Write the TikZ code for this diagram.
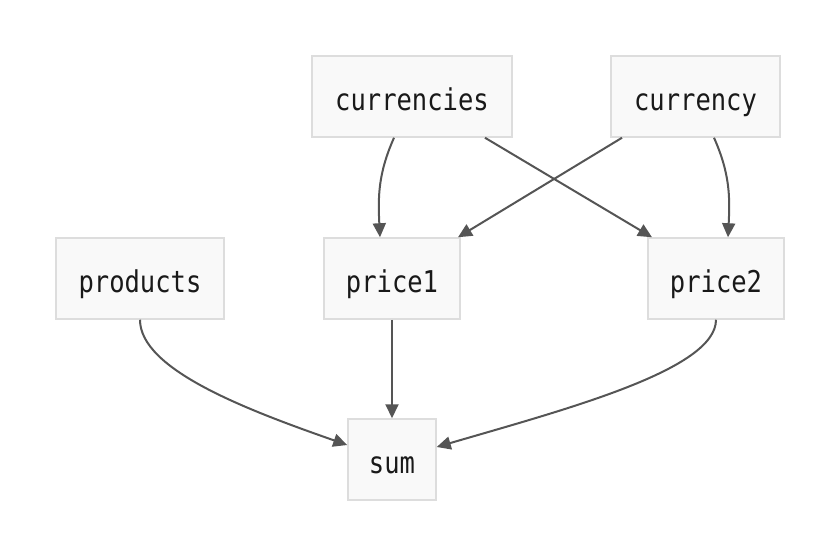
\documentclass[tikz,border=0pt]{standalone}
\usepackage{fontspec}
\setmonofont[FakeStretch=0.85]{DejaVu Sans Mono}
\usetikzlibrary{arrows.meta}
\definecolor{boxfill}{HTML}{F9F9F9}
\definecolor{boxline}{HTML}{DDDDDD}
\definecolor{edgecol}{HTML}{555555}
\tikzset{
  box/.style={draw=boxline, fill=boxfill, line width=1.5pt, anchor=center, inner sep=0pt, text height=28pt, text depth=0pt, font=\ttfamily\fontsize{30}{34}\selectfont, text=black!90},
  edge/.style={draw=edgecol, line width=2pt, -{Triangle[length=14pt,width=13pt]}},
}
\begin{document}
\begin{tikzpicture}[x=1pt,y=-1pt]
\useasboundingbox (0,0) rectangle (830,556);
\node[box, minimum width=200pt, minimum height=81pt] (currencies) at (412,96.5) {currencies};
\node[box, minimum width=169pt, minimum height=81pt] (currency) at (695.5,96.5) {currency};
\node[box, minimum width=168pt, minimum height=81pt] (products) at (140,278.5) {products};
\node[box, minimum width=136pt, minimum height=81pt] (price1) at (392,278.5) {price1};
\node[box, minimum width=136pt, minimum height=81pt] (price2) at (716,278.5) {price2};
\node[box, minimum width=88pt, minimum height=81pt] (sum) at (392,459.5) {sum};

\draw[edge] ([xshift=-18pt]currencies.south) .. controls +(-16,36) and +(-2,-40) .. ([xshift=-12pt]price1.north);
\draw[edge] ([xshift=73pt]currencies.south) -- ([xshift=-64pt]price2.north);
\draw[edge] ([xshift=-73.5pt]currency.south) -- ([xshift=66pt]price1.north);
\draw[edge] ([xshift=18.5pt]currency.south) .. controls +(16,36) and +(2,-40) .. ([xshift=12pt]price2.north);
\draw[edge] (products.south) .. controls +(0,50) and +(-100,-35) .. ([yshift=14.5pt]sum.west);
\draw[edge] (price1.south) -- (sum.north);
\draw[edge] (price2.south) .. controls +(0,50) and +(130,-38) .. ([yshift=12.5pt]sum.east);
\end{tikzpicture}
\end{document}
